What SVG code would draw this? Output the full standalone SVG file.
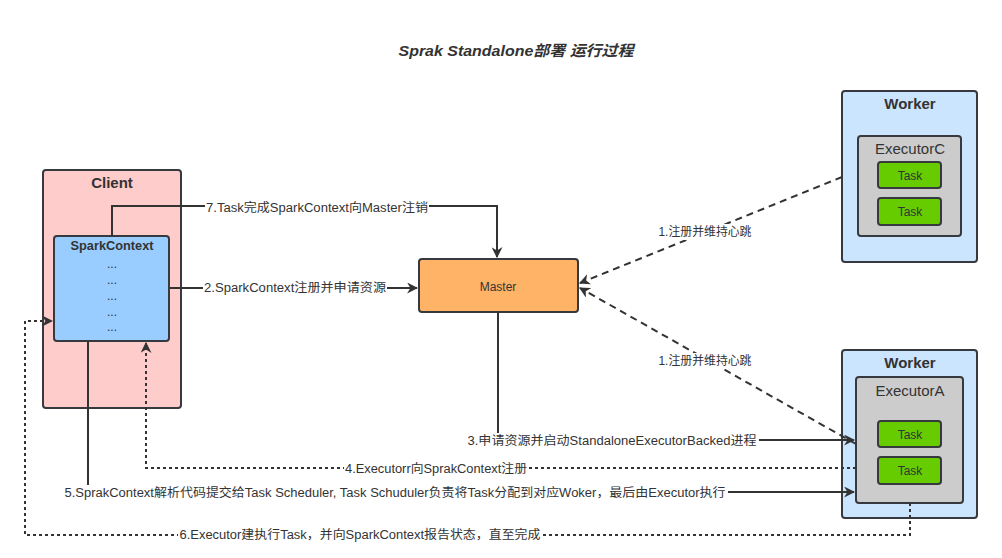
<svg xmlns="http://www.w3.org/2000/svg" width="1002" height="558" viewBox="0 0 1002 558">
<style>
text{font-family:"Liberation Sans","Noto Sans CJK SC",sans-serif;fill:#333;}
.box{stroke:#36393d;stroke-width:2;}
.lbl{font-size:12px;text-anchor:middle;dominant-baseline:central;}
.ttl{font-size:15px;font-weight:bold;text-anchor:middle;dominant-baseline:central;}
.ln{fill:none;stroke:#333;stroke-width:2;}
.dash{stroke-dasharray:7 5;}
.dot{stroke-dasharray:3 3;}
.bg{fill:#fff;}
</style>
<defs>
<marker id="arr" viewBox="0 0 10 10" refX="9" refY="5" markerWidth="11" markerHeight="11" markerUnits="userSpaceOnUse" orient="auto">
<path d="M0,0 L10,5 L0,10 L3,5 z" fill="#333"/>
</marker>
</defs>
<rect width="1002" height="558" fill="#fff"/>
<text x="516" y="50" textLength="235" lengthAdjust="spacingAndGlyphs" style="font-size:15px;font-weight:bold;font-style:italic;text-anchor:middle;dominant-baseline:central;">Sprak Standalone部署 运行过程</text>

<g id="client">
<rect class="box" x="43" y="170" width="138" height="238" rx="3" fill="#ffcccc"/>
<text class="ttl" x="112" y="182">Client</text>
</g>
<g id="sparkcontext">
<rect class="box" x="54" y="236" width="115" height="105" rx="3" fill="#99ccff"/>
<text x="112" y="246" textLength="83" lengthAdjust="spacingAndGlyphs" style="font-size:12px;font-weight:bold;text-anchor:middle;dominant-baseline:central;">SparkContext</text>
<text class="lbl" x="112" y="264">...</text>
<text class="lbl" x="112" y="280">...</text>
<text class="lbl" x="112" y="296">...</text>
<text class="lbl" x="112" y="312">...</text>
<text class="lbl" x="112" y="327">...</text>
</g>
<g id="master">
<rect class="box" x="419" y="259" width="159" height="53" rx="3" fill="#ffb366"/>
<text class="lbl" x="498" y="287">Master</text>
</g>
<g id="workerC">
<rect class="box" x="842" y="91" width="135" height="171" rx="3" fill="#cce5ff"/>
<text class="ttl" x="910" y="103">Worker</text>
<rect class="box" x="858" y="136" width="103" height="100" rx="3" fill="#cccccc"/>
<text x="910" y="148" style="font-size:15px;text-anchor:middle;dominant-baseline:central;">ExecutorC</text>
<rect class="box" x="878" y="162" width="63" height="26" rx="3" fill="#66cc00"/>
<text class="lbl" x="910" y="176">Task</text>
<rect class="box" x="878" y="198" width="63" height="27" rx="3" fill="#66cc00"/>
<text class="lbl" x="910" y="212">Task</text>
</g>
<g id="workerA">
<rect class="box" x="842" y="350" width="135" height="168" rx="3" fill="#cce5ff"/>
<text class="ttl" x="910" y="362">Worker</text>
<rect class="box" x="856" y="377" width="107" height="126" rx="3" fill="#cccccc"/>
<text x="910" y="390" style="font-size:15px;text-anchor:middle;dominant-baseline:central;">ExecutorA</text>
<rect class="box" x="878" y="421" width="63" height="26" rx="3" fill="#66cc00"/>
<text class="lbl" x="910" y="435">Task</text>
<rect class="box" x="878" y="457" width="63" height="27" rx="3" fill="#66cc00"/>
<text class="lbl" x="910" y="471">Task</text>
</g>

<g id="connectors">
<path class="ln" d="M112,236 V206 H497 V257" marker-end="url(#arr)"/>
<path class="ln" d="M169,288 H417" marker-end="url(#arr)"/>
<path class="ln dash" d="M842,177 L580,283" marker-end="url(#arr)"/>
<path class="ln dash" d="M856,444 L580,288" marker-end="url(#arr)"/>
<path class="ln" d="M498,312 V440 H854" marker-end="url(#arr)"/>
<path class="ln dot" d="M856,468 H146 V343" marker-end="url(#arr)"/>
<path class="ln" d="M88,341 V492 H854" marker-end="url(#arr)"/>
<path class="ln dot" d="M910,503 V535 H25 V321 H52" marker-end="url(#arr)"/>

<rect class="bg" x="205" y="200" width="224" height="16"/>
<text class="lbl" x="317" y="208" textLength="222" lengthAdjust="spacingAndGlyphs">7.Task完成SparkContext向Master注销</text>
<rect class="bg" x="203" y="280" width="184" height="16"/>
<text class="lbl" x="295" y="288" textLength="182" lengthAdjust="spacingAndGlyphs">2.SparkContext注册并申请资源</text>
<rect class="bg" x="657" y="224" width="97" height="16"/>
<text class="lbl" x="705" y="232" textLength="93" lengthAdjust="spacingAndGlyphs">1.注册并维持心跳</text>
<rect class="bg" x="657" y="353" width="97" height="16"/>
<text class="lbl" x="705" y="361" textLength="93" lengthAdjust="spacingAndGlyphs">1.注册并维持心跳</text>
<rect class="bg" x="466" y="433" width="293" height="16"/>
<text class="lbl" x="612" y="441" textLength="289" lengthAdjust="spacingAndGlyphs">3.申请资源并启动StandaloneExecutorBacked进程</text>
<rect class="bg" x="344" y="461" width="184" height="16"/>
<text class="lbl" x="436" y="469" textLength="182" lengthAdjust="spacingAndGlyphs">4.Executorr向SprakContext注册</text>
<rect class="bg" x="63" y="485" width="665" height="16"/>
<text class="lbl" x="395" y="493" textLength="661" lengthAdjust="spacingAndGlyphs">5.SprakContext解析代码提交给Task Scheduler, Task Schuduler负责将Task分配到对应Woker，最后由Executor执行</text>
<rect class="bg" x="178" y="527" width="365" height="16"/>
<text class="lbl" x="360" y="535" textLength="361" lengthAdjust="spacingAndGlyphs">6.Executor建执行Task，并向SparkContext报告状态，直至完成</text>
</g>
</svg>
